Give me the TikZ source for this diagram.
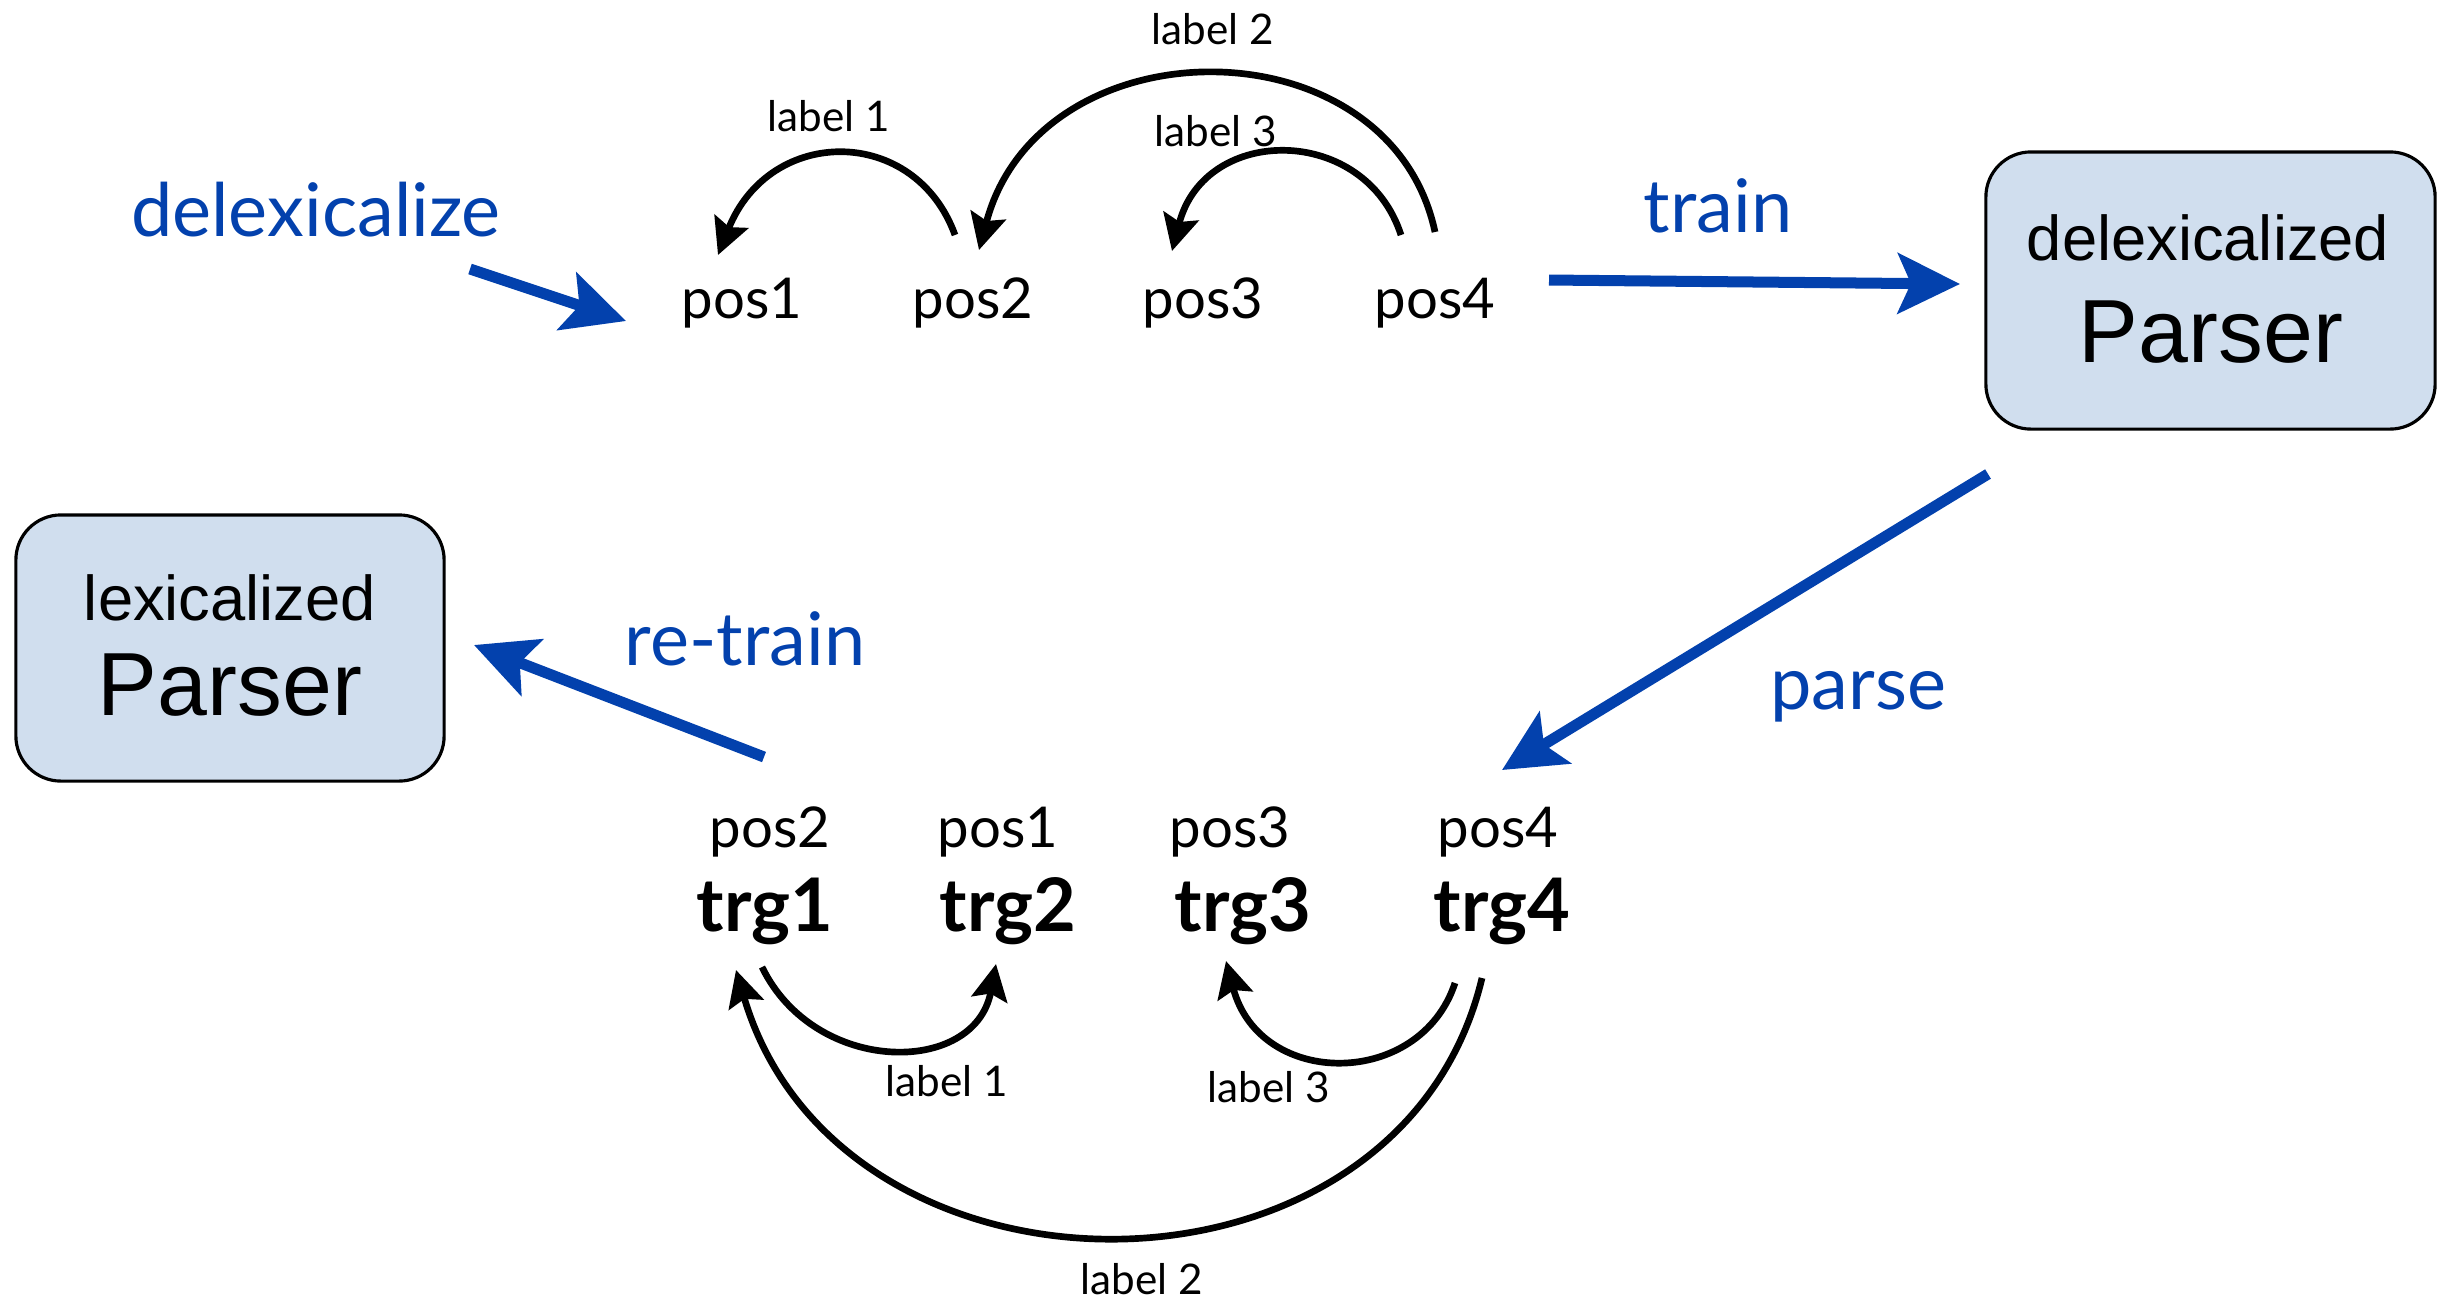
\documentclass[tikz,border=0pt]{standalone}
\usepackage{fontspec}
\setmainfont{Lato}
\newfontfamily\boxfont{Liberation Sans}
\usetikzlibrary{arrows.meta}

\definecolor{flowblue}{RGB}{3,65,173}
\definecolor{boxfill}{RGB}{208,222,238}

\begin{document}
\begin{tikzpicture}[x=0.01cm, y=-0.01cm,
  word/.style={inner sep=0pt, anchor=base, font=\fontsize{16}{19}\selectfont},
  target/.style={inner sep=0pt, anchor=base, font=\fontsize{21}{25}\selectfont\bfseries},
  arclabel/.style={inner sep=0pt, anchor=base, font=\fontsize{12}{14}\selectfont},
  action/.style={inner sep=0pt, anchor=base, text=flowblue, font=\fontsize{21}{25}\selectfont},
  dep/.style={line width=1.9pt, -{Stealth[length=0.36cm, width=0.36cm, inset=0.06cm]}},
  flow/.style={draw=flowblue, line width=0.11cm, -{Stealth[length=0.62cm, width=0.6cm, inset=0.13cm]}},
  parserbox/.style={draw=black, line width=0.9pt, fill=boxfill, rounded corners=0.45cm, inner sep=0pt},
  boxsmall/.style={inner sep=0pt, anchor=base, font=\boxfont\fontsize{18}{22}\selectfont},
  boxbig/.style={inner sep=0pt, anchor=base, font=\boxfont\fontsize{25.5}{30}\selectfont}
]
\useasboundingbox (0,0) rectangle (2454,1299);

% parser boxes
\node[parserbox, minimum width=4.49cm, minimum height=2.77cm] (dbox) at (2210.5,290.5) {};
\node[boxsmall] (dboxtop) at (2208,260) {delexicalized};
\node[boxbig] (dboxbot) at (2211,362) {Parser};

\node[parserbox, minimum width=4.28cm, minimum height=2.66cm] (lbox) at (230,648) {};
\node[boxsmall] (lboxtop) at (230,620) {lexicalized};
\node[boxbig] (lboxbot) at (230,715) {Parser};

% source sentence (delexicalized)
\node[word] (s1) at (742,318) {pos1};
\node[word] (s2) at (973,318) {pos2};
\node[word] (s3) at (1203,318) {pos3};
\node[word] (s4) at (1435,318) {pos4};

% target sentence
\node[word] (u1) at (770,847) {pos2};
\node[word] (u2) at (998,847) {pos1};
\node[word] (u3) at (1230,847) {pos3};
\node[word] (u4) at (1498,847) {pos4};
\node[target] (t1) at (765,931) {trg1};
\node[target] (t2) at (1008,931) {trg2};
\node[target] (t3) at (1243,931) {trg3};
\node[target] (t4) at (1502,931) {trg4};

% arc labels
\node[arclabel] (la1) at (829,131) {label 1};
\node[arclabel] (la2) at (1213,44) {label 2};
\node[arclabel] (la3) at (1216,146) {label 3};
\node[arclabel] (lb1) at (947,1096) {label 1};
\node[arclabel] (lb3) at (1269,1102) {label 3};
\node[arclabel] (lb2) at (1142,1294) {label 2};

% action labels
\node[action] (adelex) at (316,236) {delexicalize};
\node[action] (atrain) at (1718,232) {train};
\node[action] (aparse) at (1858,709) {parse};
\node[action] (aretrain) at (745,665) {re-train};

% arc end points above the source words
\coordinate (s2a) at (955,235);
\coordinate (s1a) at (718,255);
\coordinate (s4a) at (1435,232);
\coordinate (s2b) at (979,250);
\coordinate (s4b) at (1401,235);
\coordinate (s3a) at (1172,251);

% arc end points below the target words
\coordinate (t1a) at (762,967);
\coordinate (t2a) at (996,964);
\coordinate (t4a) at (1455,983);
\coordinate (t3a) at (1226,961);
\coordinate (t4b) at (1482,978);
\coordinate (t1b) at (736,970);

% dependency arcs, source
\draw[dep] (s2a) .. controls (915,125) and (770,125) .. (s1a);
\draw[dep] (s4a) .. controls (1390,20) and (1040,20) .. (s2b);
\draw[dep] (s4b) .. controls (1365,124) and (1205,124) .. (s3a);

% dependency arcs, target
\draw[dep] (t1a) .. controls (815,1076) and (975,1076) .. (t2a);
\draw[dep] (t4a) .. controls (1420,1089) and (1260,1089) .. (t3a);
\draw[dep] (t4b) .. controls (1400,1323) and (840,1323) .. (t1b);

% process flow arrows
\coordinate (fdelexA) at (470,269);
\coordinate (fdelexB) at (626,321);
\coordinate (ftrainA) at (1549,280);
\coordinate (ftrainB) at (1960,284);
\coordinate (fparseA) at (1988,474);
\coordinate (fparseB) at (1502,770);
\coordinate (fretrainA) at (764,757);
\coordinate (fretrainB) at (474,645);

\draw[flow] (fdelexA) -- (fdelexB);
\draw[flow] (ftrainA) -- (ftrainB);
\draw[flow] (fparseA) -- (fparseB);
\draw[flow] (fretrainA) -- (fretrainB);
\end{tikzpicture}
\end{document}
